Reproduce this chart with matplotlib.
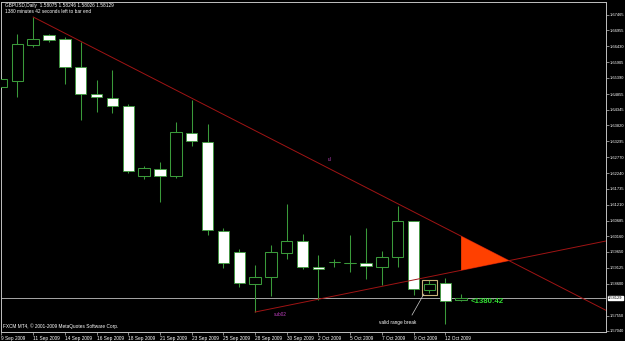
import matplotlib
matplotlib.use("Agg")
import matplotlib.pyplot as plt
import numpy as np

# GBPUSD daily bars, 9 Sep 2009 .. 13 Oct 2009 (FXCM, includes Sunday bars)
opens = [1.65090, 1.65288, 1.66475, 1.66805, 1.66673, 1.65749, 1.64859, 1.64727,
         1.64463, 1.62153, 1.62384, 1.62153, 1.63572, 1.63275, 1.60339, 1.59646,
         1.58590, 1.58821, 1.59613, 1.60009, 1.59151, 1.59316, 1.59283, 1.59283,
         1.59151, 1.59481, 1.60669, 1.58392, 1.58623, 1.58075]
highs = [1.65650, 1.66838, 1.67399, 1.66838, 1.66739, 1.66574, 1.65321, 1.65650,
         1.64529, 1.62483, 1.62615, 1.63935, 1.64661, 1.63869, 1.60438, 1.59745,
         1.59217, 1.59877, 1.61230, 1.60240, 1.59547, 1.59415, 1.60207, 1.60438,
         1.59679, 1.61163, 1.60669, 1.58722, 1.58788, 1.58246]
lows = [1.64727, 1.64760, 1.66409, 1.66574, 1.65189, 1.64001, 1.64265, 1.64232,
        1.62252, 1.62054, 1.61296, 1.62087, 1.63143, 1.60207, 1.59118, 1.58491,
        1.57666, 1.58194, 1.59415, 1.59085, 1.58062, 1.59151, 1.58986, 1.58755,
        1.58557, 1.59151, 1.58227, 1.58293, 1.57271, 1.58026]
closes = [1.65353, 1.66508, 1.66673, 1.66640, 1.65749, 1.64859, 1.64760, 1.64463,
          1.62318, 1.62417, 1.62153, 1.63605, 1.63308, 1.60372, 1.59283, 1.58623,
          1.58821, 1.59646, 1.60009, 1.59151, 1.59085, 1.59316, 1.59283, 1.59184,
          1.59481, 1.60669, 1.58425, 1.58590, 1.58029, 1.58129]

date_labels = ["9 Sep 2009", "11 Sep 2009", "14 Sep 2009", "16 Sep 2009", "18 Sep 2009",
               "21 Sep 2009", "23 Sep 2009", "25 Sep 2009", "28 Sep 2009", "30 Sep 2009",
               "2 Oct 2009", "5 Oct 2009", "7 Oct 2009", "9 Oct 2009", "12 Oct 2009"]
date_bars = [0, 2, 4, 6, 8, 10, 12, 14, 16, 18, 20, 22, 24, 26, 28]

price_ticks = [1.67465, 1.66955, 1.66430, 1.65905, 1.65390, 1.64855, 1.64345,
               1.63820, 1.63295, 1.62770, 1.62240, 1.61735, 1.61210, 1.60685,
               1.60160, 1.59650, 1.59125, 1.58600, 1.57550, 1.57040]
bid = 1.58129

# trend line anchors (bar, price)
upper_line = [(2, 1.67399), (25, 1.61240)]
lower_line = [(16, 1.57666), (29, 1.59042)]
# rectangle around the breakout bar
rect_bars = (26.53, 27.47)
rect_prices = (1.58227, 1.58722)

green = "#3a9a3a"
red = "#a01414"

fig = plt.figure(figsize=(6.25, 3.41), dpi=100, facecolor="black")
ax = fig.add_axes([1.5 / 625, 9 / 341, 604.5 / 625, 330.5 / 341], facecolor="black")
x0, x1 = 0, 38.14
ax.set_xlim(x0, x1)
ax.set_ylim(1.57007, 1.67910)

n = len(opens)
idx = np.arange(n)
o = np.array(opens); c = np.array(closes)
ax.vlines(idx, lows, highs, color=green, lw=0.75, zorder=2)
bull = c >= o
body_lo = np.minimum(o, c)
body_h = np.abs(c - o)
ax.bar(idx[bull], body_h[bull], bottom=body_lo[bull], width=0.72,
       color="black", edgecolor=green, lw=0.75, zorder=3)
ax.bar(idx[~bull], body_h[~bull], bottom=body_lo[~bull], width=0.72,
       color="white", edgecolor=green, lw=0.6, zorder=3)
doji = body_h < 1e-6
ax.hlines(c[doji], idx[doji] - 0.36, idx[doji] + 0.36, color=green, lw=0.75, zorder=3)


def line_at(pts, x):
    (xa, ya), (xb, yb) = pts
    return ya + (yb - ya) * (x - xa) / (xb - xa)


ux = np.array([upper_line[0][0], x1])
ax.plot(ux, line_at(upper_line, ux), color=red, lw=0.7, zorder=4)
lx = np.array([lower_line[0][0], x1])
ax.plot(lx, line_at(lower_line, lx), color=red, lw=0.7, zorder=4)

# triangle between the two lines from the last bar to their crossing
(ua, ub), (la, lb) = upper_line, lower_line
su = (ub[1] - ua[1]) / (ub[0] - ua[0])
sl = (lb[1] - la[1]) / (lb[0] - la[0])
xc = (la[1] - ua[1] + su * ua[0] - sl * la[0]) / (su - sl)
tri_x = [29, 29, xc]
tri_y = [line_at(upper_line, 29), line_at(lower_line, 29), line_at(upper_line, xc)]
ax.fill(tri_x, tri_y, color="#ff4000", lw=0, zorder=5)

# bid line
ax.axhline(bid, color="#a8a8a8", lw=0.7, zorder=1)

ax.add_patch(plt.Rectangle((rect_bars[0], rect_prices[0]), rect_bars[1] - rect_bars[0],
                           rect_prices[1] - rect_prices[0], fill=False,
                           edgecolor="#c8b27a", lw=0.8, zorder=6))

small = dict(family="Liberation Sans", fontsize=3.4)
ax.text(20.6, 1.62600, "ul", color="#c040c0", ha="left", va="bottom", **small)
ax.text(17.2, 1.57600, "sub02", color="#c040c0", ha="left", va="center", **small)
ax.text(25.0, 1.57336, "valid range break", color="white", ha="center", va="center", **small)
ax.plot([25.9, 26.65], [1.57567, 1.58260], color="#d0d0d0", lw=0.5, zorder=6)
ax.text(29.6, 1.58029, "<1380:42", color="#33dd33", ha="left", va="center",
        family="Liberation Sans", fontsize=5.6, fontweight="bold")

ax.text(0.005, 0.994, "GBPUSD,Daily  1.58075 1.58246 1.58026 1.58129", transform=ax.transAxes,
        color="white", ha="left", va="top", **small)
ax.text(0.005, 0.976, "1380 minutes 42 seconds left to bar end", transform=ax.transAxes,
        color="white", ha="left", va="top", **small)
fig.text(3 / 625, 1 - 326 / 341, "FXCM MT4, \u00a9 2001-2009 MetaQuotes Software Corp.",
         color="white", ha="left", va="center", **small)

# axes
ax.yaxis.tick_right()
ax.set_yticks(price_ticks)
ax.set_yticklabels([f"{p:.5f}" for p in price_ticks])
ax.set_xticks(date_bars)
ax.set_xticklabels(date_labels, ha="left")
ax.tick_params(axis="x", colors="#c0c0c0", labelcolor="white", labelsize=3.4,
               length=2, width=0.5, pad=1)
ax.tick_params(axis="y", colors="#c0c0c0", labelcolor="white", labelsize=2.9,
               length=2, width=0.5, pad=0.6)
for lab in ax.get_xticklabels() + ax.get_yticklabels():
    lab.set_family("Liberation Sans")
for s in ax.spines.values():
    s.set_color("#c0c0c0")
    s.set_linewidth(0.7)

ax.text(1.0035, bid, f"{bid:.5f}", transform=ax.get_yaxis_transform(), color="black",
        ha="left", va="center", family="Liberation Sans", fontsize=2.9,
        bbox=dict(boxstyle="square,pad=0.12", fc="white", ec="white"), clip_on=False)

fig.savefig("out.png", dpi=100, facecolor="black")
